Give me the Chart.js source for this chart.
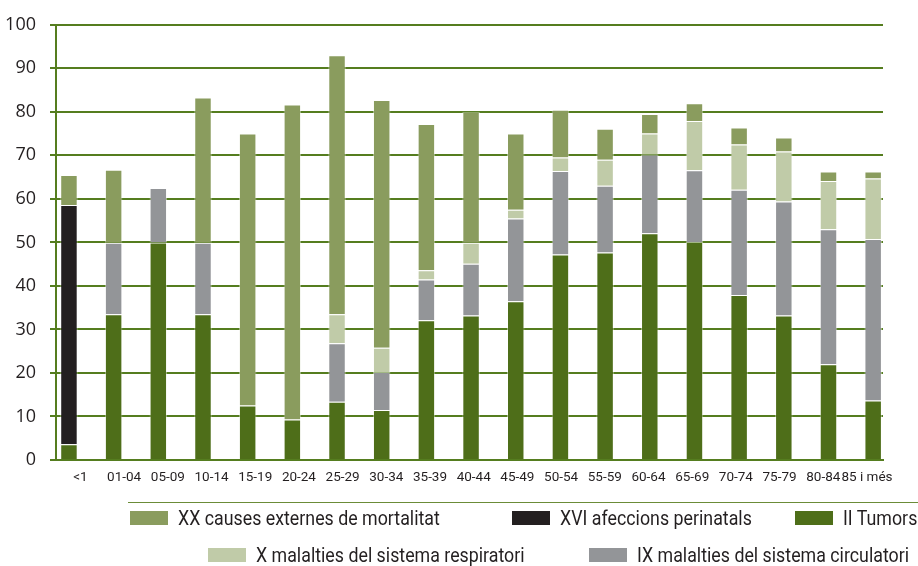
<!DOCTYPE html>
<html>
<head>
<meta charset="utf-8">
<script src="https://cdn.jsdelivr.net/npm/chart.js@4/dist/chart.umd.min.js"></script>
<style>
  html, body { margin: 0; padding: 0; background: #fff; }
  #wrap { position: relative; width: 918px; height: 566px; }
  #chart { position: absolute; left: 0; top: 0; }
  .rule { position: absolute; left: 128px; top: 502px; width: 790px; height: 0; border-top: 1px solid #6b8c38; }
  .item { position: absolute; font-family: Roboto, sans-serif; font-size: 20px; color: #231f20; white-space: nowrap; line-height: 20px; }
  .item .box { position: absolute; left: 0; top: 3px; width: 38px; height: 14px; }
  .item .txt { display: inline-block; transform: scaleX(0.89); transform-origin: 0 50%; }
</style>
</head>
<body>
<div id="wrap">
  <canvas id="chart" width="918" height="566"></canvas>
  <div class="rule"></div>
  <div id="legend"></div>
</div>
<script>
// age groups
const ageGroups = ['<1', '01-04', '05-09', '10-14', '15-19', '20-24', '25-29', '30-34', '35-39', '40-44',
  '45-49', '50-54', '55-59', '60-64', '65-69', '70-74', '75-79', '80-84', '85 i més'];

// values (stacked, bottom to top)
const tumors      = [3.6, 33.5, 50.0, 33.5, 12.5, 9.3, 13.4, 11.5, 32.1, 33.2, 36.5, 47.2, 47.7, 52.1, 50.1, 37.9, 33.2, 22.0, 13.7];
const circulatory = [0, 16.4, 12.5, 16.4, 0, 0, 13.4, 8.7, 9.4, 11.9, 19.0, 19.2, 15.3, 18.1, 16.5, 24.2, 26.2, 31.0, 37.1];
const respiratory = [0, 0, 0, 0, 0, 0, 6.7, 5.6, 2.1, 4.8, 2.0, 3.1, 6.0, 4.8, 11.3, 10.4, 11.5, 11.1, 13.9];
const perinatal   = [55.0, 0, 0, 0, 0, 0, 0, 0, 0, 0, 0, 0, 0, 0, 0, 0, 0, 0, 0];
const external    = [6.9, 16.8, 0, 33.4, 62.5, 72.4, 59.5, 56.9, 33.6, 30.1, 17.5, 11.0, 7.1, 4.5, 4.1, 3.9, 3.2, 2.2, 1.6];

const yTicks = [0, 10, 20, 30, 40, 50, 60, 70, 80, 90, 100];

const GREEN_LINE = '#557d1f';
const seriesDefs = [
  { key: 'tumors', label: 'II Tumors', values: tumors, color: '#4e6e19' },
  { key: 'circ', label: 'IX malalties del sistema circulatori', values: circulatory, color: '#939598' },
  { key: 'resp', label: 'X malalties del sistema respiratori', values: respiratory, color: '#c0cba8' },
  { key: 'peri', label: 'XVI afeccions perinatals', values: perinatal, color: '#231f20' },
  { key: 'ext', label: 'XX causes externes de mortalitat', values: external, color: '#8a9c5e' }
];

// legend layout (order and spots as in the original)
const legendSpots = [
  { key: 'ext', left: 130, top: 508 },
  { key: 'peri', left: 512, top: 508 },
  { key: 'tumors', left: 795, top: 508 },
  { key: 'resp', left: 208, top: 545 },
  { key: 'circ', left: 589, top: 545 }
];

const legendEl = document.getElementById('legend');
legendSpots.forEach(spot => {
  const s = seriesDefs.find(d => d.key === spot.key);
  const div = document.createElement('div');
  div.className = 'item';
  div.style.left = spot.left + 'px';
  div.style.top = spot.top + 'px';
  div.style.paddingLeft = '48px';
  div.innerHTML = '<span class="box" style="background:' + s.color + '"></span><span class="txt">' + s.label + '</span>';
  legendEl.appendChild(div);
});

// the labels in the original sit on a slightly tighter pitch than the bars
const labelShift = 0.257, labelPitch = 0.978;

new Chart(document.getElementById('chart'), {
  type: 'bar',
  data: {
    datasets: seriesDefs.map(s => ({
      label: s.label,
      data: s.values.map((v, i) => ({ x: i, y: v || null })),
      backgroundColor: s.color,
      borderColor: 'rgba(255,255,255,0.45)',
      borderWidth: 1,
      categoryPercentage: 1,
      barPercentage: 0.4
    }))
  },
  options: {
    responsive: false,
    animation: false,
    layout: { padding: { top: 18, right: 35, left: 0, bottom: 0 } },
    plugins: { legend: { display: false }, tooltip: { enabled: false } },
    scales: {
      x: {
        type: 'linear',
        stacked: true,
        offset: false,
        min: -0.29,
        max: 18.22,
        grid: { display: false, drawTicks: false },
        border: { display: true, color: GREEN_LINE, width: 2 },
        afterFit: scale => { scale.height = 106; },
        afterBuildTicks: scale => {
          scale.ticks = ageGroups.map((_, i) => ({ value: labelShift + labelPitch * i }));
        },
        ticks: {
          autoSkip: false,
          maxRotation: 0,
          minRotation: 0,
          padding: 10,
          color: '#231f20',
          font: { family: 'Roboto, sans-serif', size: 13.5 },
          callback: (v, i) => ageGroups[i]
        }
      },
      y: {
        stacked: true,
        min: yTicks[0],
        max: yTicks[yTicks.length - 1],
        afterFit: scale => { scale.width = 56; },
        afterBuildTicks: scale => { scale.ticks = yTicks.map(v => ({ value: v })); },
        grid: { color: GREEN_LINE, lineWidth: 2, tickLength: 6, drawTicks: true },
        border: { display: true, color: GREEN_LINE, width: 2 },
        ticks: {
          padding: 14,
          color: '#231f20',
          font: { family: "'Open Sans', sans-serif", size: 18 }
        }
      }
    }
  }
});
</script>
</body>
</html>
